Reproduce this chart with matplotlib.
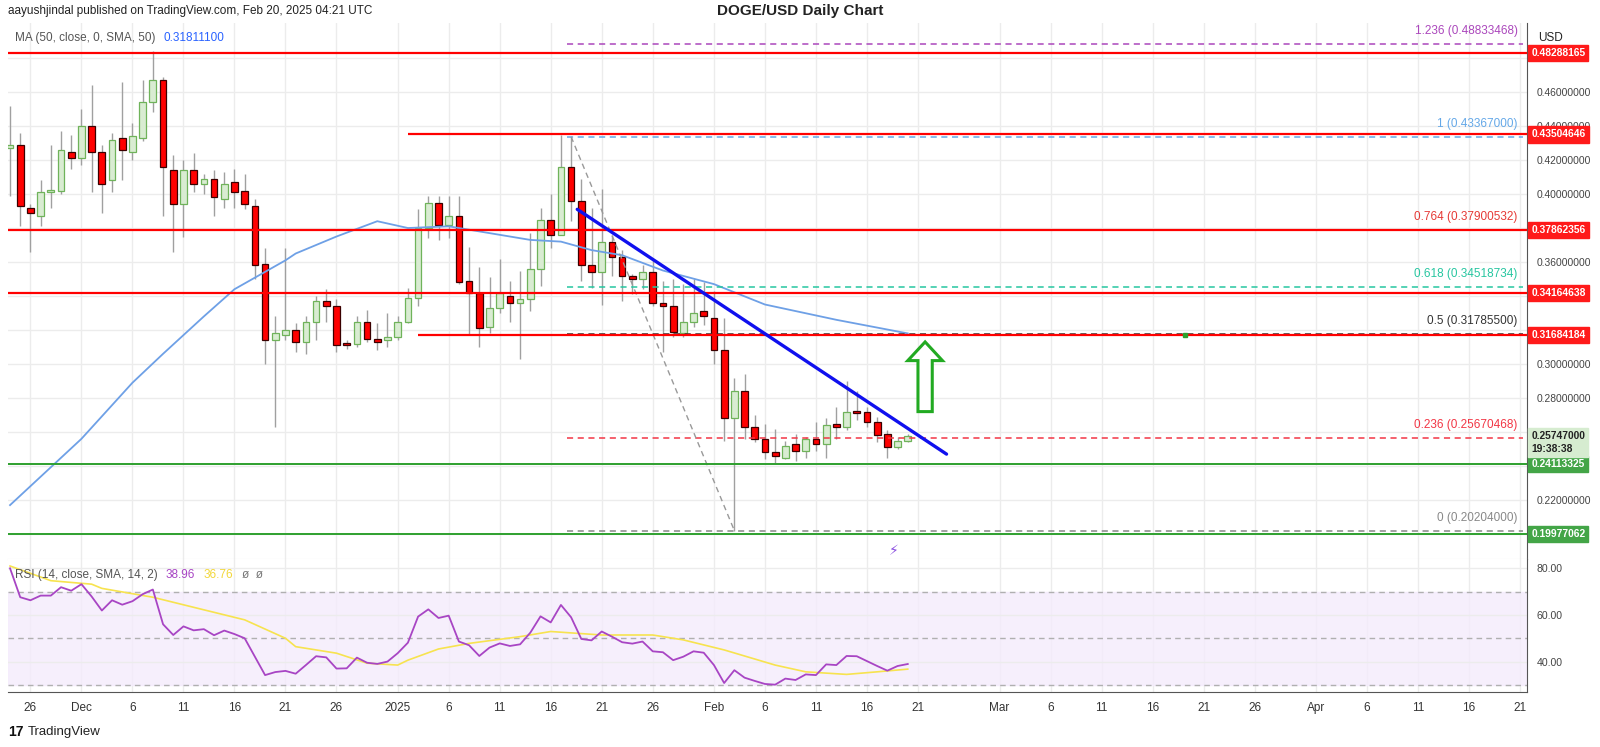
import matplotlib
matplotlib.use("Agg")
import matplotlib.pyplot as plt
import numpy as np
from matplotlib.patches import FancyArrow

plt.rcParams['font.family'] = ['Liberation Sans', 'DejaVu Sans']

# ---------------- data ----------------
opens = [.427,.429,.392,.387,.401,.402,.425,.421,.440,.425,.408,.433,.425,.433,.454,.467,.414,.394,.414,.406,
         .409,.397,.407,.402,.393,.359,.314,.317,.320,.313,.325,.337,.334,.312,.312,.325,.314,.314,.316,.325,
         .339,.380,.395,.382,.387,.349,.342,.322,.333,.340,.336,.338,.356,.385,.376,.416,.396,.358,.354,.372,
         .363,.351,.350,.354,.336,.334,.318,.325,.331,.327,.308,.268,.284,.263,.256,.248,.245,.253,.249,.256,
         .253,.264,.263,.272,.272,.266,.259,.251,.255]
highs = [.452,.436,.394,.408,.429,.437,.435,.450,.464,.429,.436,.466,.442,.467,.484,.469,.423,.420,.424,.412,
         .414,.413,.415,.412,.397,.368,.328,.368,.324,.328,.340,.344,.338,.314,.328,.332,.324,.330,.328,.345,
         .391,.399,.399,.399,.399,.369,.357,.351,.362,.349,.355,.377,.392,.400,.435,.4337,.409,.392,.403,.376,
         .367,.353,.358,.361,.349,.350,.347,.350,.348,.343,.327,.292,.294,.270,.265,.262,.255,.259,.257,.266,
         .268,.275,.290,.284,.275,.269,.261,.257,.259]
lows = [.399,.381,.366,.381,.392,.400,.415,.417,.401,.389,.401,.408,.420,.431,.448,.387,.366,.375,.401,.400,
        .387,.392,.392,.391,.350,.300,.263,.314,.307,.306,.314,.325,.307,.309,.310,.313,.308,.310,.314,.324,
        .334,.374,.373,.374,.347,.317,.310,.318,.330,.325,.303,.331,.346,.368,.376,.384,.349,.345,.335,.352,
        .337,.341,.344,.334,.307,.316,.316,.322,.323,.300,.255,.2020,.256,.254,.244,.242,.244,.243,.245,.249,
        .245,.256,.261,.267,.263,.254,.245,.250,.254]
closes = [.429,.393,.389,.401,.402,.426,.421,.440,.425,.406,.432,.426,.434,.454,.467,.416,.394,.414,.406,.409,
          .398,.406,.401,.394,.358,.314,.318,.320,.313,.325,.337,.334,.311,.311,.325,.315,.313,.316,.325,.339,
          .380,.395,.382,.387,.348,.342,.321,.333,.342,.336,.338,.356,.385,.376,.416,.396,.358,.354,.372,.363,
          .352,.350,.354,.336,.334,.319,.325,.330,.328,.308,.268,.284,.263,.256,.248,.246,.252,.249,.256,.253,
          .264,.263,.272,.271,.266,.258,.251,.255,.2575]

ma_idx = [0, 7, 12, 15, 19, 22, 27, 28, 32, 36, 39, 43, 46, 51, 54, 57, 60, 64, 69, 74, 81, 88]
ma_val = [.217, .256, .289, .306, .328, .344, .361, .365, .375, .384, .380, .381, .378, .373, .372, .367, .364,
          .355, .347, .335, .326, .318]

rsi = [80.0,67.6,66.3,68.3,68.3,71.9,70.4,73.2,67.9,61.9,66.3,64.4,65.9,68.9,70.9,56.0,51.4,55.1,53.4,53.9,
       51.3,53.3,51.8,50.0,42.1,34.2,35.5,36.0,34.8,38.5,42.3,41.8,37.0,37.1,41.7,39.5,39.0,40.0,43.6,48.1,
       59.3,62.4,58.7,59.7,48.6,47.0,42.4,46.0,47.8,46.7,47.4,52.4,59.4,56.8,64.3,59.0,49.7,49.1,52.9,50.7,
       48.3,47.7,48.6,44.4,44.0,40.6,42.1,44.4,43.8,38.5,30.8,36.3,33.1,31.7,30.4,30.1,32.7,32.1,34.5,34.2,
       38.8,38.5,42.4,42.3,40.2,38.1,36.1,38.1,38.96]
rsi_ma_idx = [0, 4, 8, 9, 14, 19, 23, 27, 28, 32, 35, 38, 39, 42, 45, 50, 53, 58, 63, 66, 70, 75, 78, 82, 85, 88]
rsi_ma_val = [81.0, 74.7, 73.2, 71.4, 67.6, 62.2, 57.9, 50.0, 46.4, 43.6, 39.3, 38.5, 40.6, 45.4, 47.8, 50.7,
              52.9, 51.4, 51.4, 49.3, 45.0, 38.5, 35.6, 34.5, 35.6, 36.76]

tick_pos = [2, 7, 12, 17, 22, 27, 32, 38, 43, 48, 53, 58, 63, 69, 74, 79, 84, 89, 97, 102, 107, 112, 117, 122,
            128, 133, 138, 143, 148]
tick_lab = ['26', 'Dec', '6', '11', '16', '21', '26', '2025', '6', '11', '16', '21', '26', 'Feb', '6', '11', '16',
            '21', 'Mar', '6', '11', '16', '21', '26', 'Apr', '6', '11', '16', '21']

price_ticks = [0.22, 0.28, 0.30, 0.36, 0.40, 0.42, 0.44, 0.46]

red_levels = [0.48288165, 0.43504646, 0.37862356, 0.34164638, 0.31684184]
red_start = [-1, 39, -1, -1, 40]
green_levels = [0.24113325, 0.19977062]

fib_ratio = ['1.236', '1', '0.764', '0.618', '0.5', '0.236', '0']
fib_price = [0.48833468, 0.43367, 0.37900532, 0.34518734, 0.317855, 0.25670468, 0.20204]
fib_color = ['#ab47bc', '#64a8e8', '#e53935', '#26c6a0', '#333333', '#f23645', '#888888']

trend_x = [55.6, 91.8]
trend_y = [0.391, 0.247]

# ---------------- figure ----------------
W, H = 1600, 747
fig = plt.figure(figsize=(W / 100, H / 100), dpi=100)
fig.patch.set_facecolor('white')

def ax_rect(x0, y0, x1, y1):
    return [x0 / W, 1 - y1 / H, (x1 - x0) / W, (y1 - y0) / H]

ax = fig.add_axes(ax_rect(8, 23, 1527, 559))
ar = fig.add_axes(ax_rect(8, 559, 1527, 692), sharex=ax)

XMIN, XMAX = -0.2, 148.7
ax.set_xlim(XMIN, XMAX)
ax.set_ylim(0.1853, 0.5006)
ar.set_ylim(26.95, 84.0)

grid_c = '#ececec'
for a in (ax, ar):
    for s in ['top', 'left']:
        a.spines[s].set_visible(False)
    a.spines['right'].set_color('#555555')
    a.spines['bottom'].set_color('#555555')
    a.set_xticks(tick_pos)
    for t in tick_pos:
        a.axvline(t, color=grid_c, lw=1, zorder=0)
ax.spines['bottom'].set_color('#dddddd')
ax.tick_params(axis='x', length=0, labelbottom=False)
ar.set_xticklabels(tick_lab)
ar.tick_params(axis='x', length=0, labelsize=8.5, colors='#333333', pad=7)

for p in np.arange(0.20, 0.50, 0.02):
    ax.axhline(p, color=grid_c, lw=1, zorder=0)
ax.yaxis.tick_right()
ax.set_yticks(price_ticks)
ax.set_yticklabels([f'{p:.8f}' for p in price_ticks])
ax.tick_params(axis='y', length=0, labelsize=7.4, colors='#444444', pad=7)

# candles
x = np.arange(len(opens))
o = np.array(opens); c = np.array(closes); h = np.array(highs); l = np.array(lows)
up = c >= o
ax.vlines(x, l, h, color='#a0a0a0', lw=1, zorder=2)
bot = np.minimum(o, c); ht = np.maximum(np.abs(c - o), 0.0015)
ax.bar(x[up], ht[up], bottom=bot[up], width=0.66, color='#d9ecd2', edgecolor='#6fb35a', lw=0.9, zorder=3)
ax.bar(x[~up], ht[~up], bottom=bot[~up], width=0.66, color='#ff0000', edgecolor='#3a0000', lw=0.9, zorder=3)

# MA
ax.plot(ma_idx, ma_val, color='#6ea0e6', lw=1.3, zorder=4)

# red / green lines
for lev, st in zip(red_levels, red_start):
    ax.hlines(lev, st if st >= 0 else XMIN, XMAX, color='#ff0000', lw=1.6, zorder=5)
for lev in green_levels:
    ax.hlines(lev, XMIN, XMAX, color='#2ea02e', lw=1.4, zorder=5)

# fib levels
for r, pv, col in zip(fib_ratio, fib_price, fib_color):
    ax.hlines(pv, 54.6, 148.3, color=col, lw=1.1, linestyles=(0, (4, 3)), zorder=4)
    ax.text(147.8, pv + 0.004, f'{r} ({pv:.8f})', color=col, fontsize=8.5, ha='right', va='bottom', zorder=6)
ax.plot([55, 71], [fib_price[1], fib_price[6]], color='#999999', lw=1, ls=(0, (4, 3)), zorder=4)

# trend line
ax.plot(trend_x, trend_y, color='#1010ee', lw=2.4, zorder=6, solid_capstyle='round')

# green up arrow
arrow = FancyArrow(89.7, 0.272, 0, 0.030, width=1.4, head_width=3.4, head_length=0.011,
                   length_includes_head=False, facecolor='white', edgecolor='#22aa22', lw=2.2, zorder=7)
ax.add_patch(arrow)
ax.plot([115.2], [red_levels[4]], marker='s', ms=3, color='#2ea02e', zorder=7)
ax.text(86.6, 0.190, '⚡', color='#8a4de0', fontsize=10, ha='center', va='center', zorder=7,
        family=['DejaVu Sans'])

# axis labels boxes
def box(pv, txt, fc, tc='white', bold=True):
    ax.annotate(txt, xy=(1.0, pv), xycoords=('axes fraction', 'data'), xytext=(3, 0),
                textcoords='offset points', fontsize=7.4, color=tc, fontweight='bold' if bold else 'normal',
                va='center', ha='left', annotation_clip=False, zorder=10, linespacing=1.3,
                bbox=dict(boxstyle='square,pad=0.3', fc=fc, ec=fc))

for lev in red_levels:
    box(lev, f'{lev:.8f}', '#ff1a1a')
for lev in green_levels:
    box(lev, f'{lev:.8f}', '#43a547')
box(0.2538, '0.25747000\n19:38:38', '#d6ecd0', tc='#222222')

fig.text(1538 / W, 1 - 38 / H, 'USD', fontsize=8.5, color='#222222', va='center', ha='left')

# legends (chained text pieces)
def legend_line(a, y, parts):
    prev = a.text(0.0045, y, parts[0][0], transform=a.transAxes, fontsize=8.5, color=parts[0][1],
                  va='center', ha='left')
    for txt, col in parts[1:]:
        prev = a.annotate(txt, xy=(1, 0.5), xycoords=prev, xytext=(6, 0), textcoords='offset points',
                          fontsize=8.5, color=col, va='center', ha='left')

legend_line(ax, 0.972, [('MA (50, close, 0, SMA, 50)', '#555555'), ('0.31811100', '#2962ff')])

# RSI
ar.axhspan(30, 70, color='#f4ebfc', alpha=0.8, zorder=0)
for lv in (70, 50, 30):
    ar.axhline(lv, color='#b0b0b0', lw=1, ls=(0, (4, 3)), zorder=1)
for lv in (40, 60, 80):
    ar.axhline(lv, color=grid_c, lw=1, zorder=0)
ar.plot(np.arange(len(rsi)), rsi, color='#a845c4', lw=1.3, zorder=3)
ar.plot(rsi_ma_idx, rsi_ma_val, color='#f7e34f', lw=1.2, zorder=2)
ar.yaxis.tick_right()
ar.set_yticks([40, 60, 80])
ar.set_yticklabels(['40.00', '60.00', '80.00'])
ar.tick_params(axis='y', length=0, labelsize=7.6, colors='#444444', pad=7)
legend_line(ar, 0.88, [('RSI (14, close, SMA, 14, 2)', '#555555'), ('38.96', '#a845c4'),
                       ('36.76', '#f2d73a'), ('ø  ø', '#777777')])

# header / footer
fig.text(8 / W, 1 - 11 / H, 'aayushjindal published on TradingView.com, Feb 20, 2025 04:21 UTC',
         fontsize=8.5, color='#222222', va='center')
fig.text(0.5, 1 - 11 / H, 'DOGE/USD Daily Chart', fontsize=11, fontweight='bold', color='#222222',
         ha='center', va='center')
fig.text(8 / W, 1 - 732 / H, '17', fontsize=10, fontweight='bold', color='#111111', va='center')
fig.text(28 / W, 1 - 732 / H, 'TradingView', fontsize=9.5, color='#222222', va='center')

fig.savefig('out.png', dpi=100, facecolor='white')
